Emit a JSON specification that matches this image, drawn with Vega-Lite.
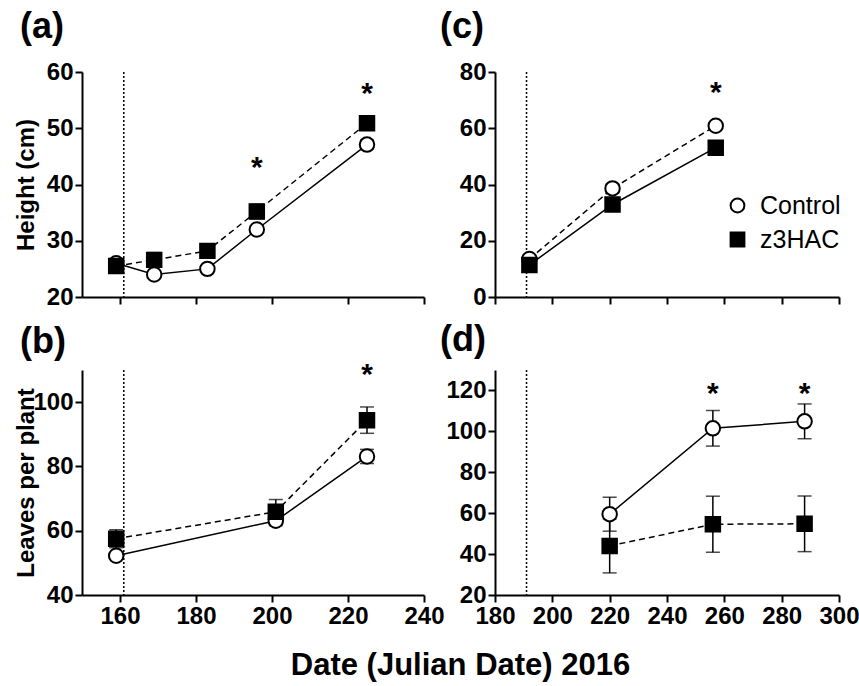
{
  "$schema": "https://vega.github.io/schema/vega-lite/v6.json",
  "padding": {"left": 14, "top": 9, "right": 0, "bottom": 4},
  "background": "white",
  "datasets": {
    "obs": [
      {"panel": "a", "series": "Control", "day": 159, "mean": 26.0, "err": 0.8},
      {"panel": "a", "series": "Control", "day": 169, "mean": 24.0, "err": 0.5},
      {"panel": "a", "series": "Control", "day": 183, "mean": 25.0, "err": 0.5},
      {"panel": "a", "series": "Control", "day": 196, "mean": 32.0, "err": 0.6},
      {"panel": "a", "series": "Control", "day": 225, "mean": 47.1, "err": 0.8},
      {"panel": "a", "series": "z3HAC", "day": 159, "mean": 25.5, "err": 0.9},
      {"panel": "a", "series": "z3HAC", "day": 169, "mean": 26.6, "err": 1.3},
      {"panel": "a", "series": "z3HAC", "day": 183, "mean": 28.2, "err": 1.2},
      {"panel": "a", "series": "z3HAC", "day": 196, "mean": 35.2, "err": 1.3},
      {"panel": "a", "series": "z3HAC", "day": 225, "mean": 50.9, "err": 1.2},
      {"panel": "b", "series": "Control", "day": 159, "mean": 52.2, "err": 1.0},
      {"panel": "b", "series": "Control", "day": 201, "mean": 63.1, "err": 1.5},
      {"panel": "b", "series": "Control", "day": 225, "mean": 83.1, "err": 2.2},
      {"panel": "b", "series": "z3HAC", "day": 159, "mean": 57.5, "err": 2.8},
      {"panel": "b", "series": "z3HAC", "day": 201, "mean": 65.9, "err": 3.8},
      {"panel": "b", "series": "z3HAC", "day": 225, "mean": 94.4, "err": 4.1},
      {"panel": "c", "series": "Control", "day": 192, "mean": 13.5, "err": 1.0},
      {"panel": "c", "series": "Control", "day": 221, "mean": 38.6, "err": 1.5},
      {"panel": "c", "series": "Control", "day": 257, "mean": 60.9, "err": 1.2},
      {"panel": "c", "series": "z3HAC", "day": 192, "mean": 11.4, "err": 1.0},
      {"panel": "c", "series": "z3HAC", "day": 221, "mean": 32.9, "err": 1.5},
      {"panel": "c", "series": "z3HAC", "day": 257, "mean": 53.1, "err": 1.0},
      {"panel": "d", "series": "Control", "day": 220, "mean": 59.5, "err": 8.3},
      {"panel": "d", "series": "Control", "day": 256, "mean": 101.5, "err": 8.7},
      {"panel": "d", "series": "Control", "day": 288, "mean": 104.9, "err": 8.5},
      {"panel": "d", "series": "z3HAC", "day": 220, "mean": 44.0, "err": 13.2},
      {"panel": "d", "series": "z3HAC", "day": 256, "mean": 54.6, "err": 13.7},
      {"panel": "d", "series": "z3HAC", "day": 288, "mean": 54.8, "err": 13.6}
    ],
    "stars": [
      {"panel": "a", "day": 196, "pos": 41.4},
      {"panel": "a", "day": 225, "pos": 54.5},
      {"panel": "b", "day": 225, "pos": 105.6},
      {"panel": "c", "day": 257, "pos": 69.4},
      {"panel": "d", "day": 256, "pos": 113.7},
      {"panel": "d", "day": 288, "pos": 113.7}
    ],
    "treat": [
      {"panel": "a", "day": 161},
      {"panel": "b", "day": 161},
      {"panel": "c", "day": 191},
      {"panel": "d", "day": 191}
    ]
  },
  "title": {"text": "Date (Julian Date) 2016", "orient": "bottom", "anchor": "middle", "font": "Liberation Sans", "fontSize": 31, "fontWeight": "bold", "color": "black", "offset": 23, "dx": 24},
  "columns": 2,
  "spacing": {"row": 73, "column": 71},
  "bounds": "flush",
  "concat": [
    {
      "width": 342, "height": 225,
      "title": {"text": "(a)", "anchor": "start", "frame": "group", "dx": -62, "offset": 14},
      "encoding": {"x": {"field": "day", "type": "quantitative", "scale": {"domain": [150, 240], "nice": false, "zero": false}, "axis": {"values": [160, 180, 200, 220, 240], "labels": false, "title": null}}},
      "layer": [
        {"data": {"name": "treat"}, "transform": [{"filter": "datum.panel === 'a'"}], "mark": {"type": "rule", "color": "black", "strokeWidth": 1.5, "strokeDash": [2, 2]}},
        {"data": {"name": "obs"}, "transform": [{"filter": "datum.panel === 'a'"}],
         "mark": {"type": "errorbar", "color": "black", "ticks": {"size": 14, "thickness": 1.5}, "rule": {"strokeWidth": 1.5}},
         "encoding": {"y": {"field": "mean", "type": "quantitative", "scale": {"domain": [20, 60], "nice": false, "zero": false}, "axis": {"values": [20, 30, 40, 50, 60], "title": "Height (cm)", "minExtent": 35, "maxExtent": 35, "titlePadding": 9}}, "yError": {"field": "err"}}},
        {"data": {"name": "obs"}, "transform": [{"filter": "datum.panel === 'a' && datum.series === 'Control'"}],
         "mark": {"type": "line", "color": "black", "strokeWidth": 1.5},
         "encoding": {"y": {"field": "mean", "type": "quantitative", "scale": {"domain": [20, 60], "nice": false, "zero": false}, "axis": {"values": [20, 30, 40, 50, 60], "title": "Height (cm)", "minExtent": 35, "maxExtent": 35, "titlePadding": 9}}}},
        {"data": {"name": "obs"}, "transform": [{"filter": "datum.panel === 'a' && datum.series === 'z3HAC'"}],
         "mark": {"type": "line", "color": "black", "strokeWidth": 1.5, "strokeDash": [6, 4]},
         "encoding": {"y": {"field": "mean", "type": "quantitative", "scale": {"domain": [20, 60], "nice": false, "zero": false}, "axis": {"values": [20, 30, 40, 50, 60], "title": "Height (cm)", "minExtent": 35, "maxExtent": 35, "titlePadding": 9}}}},
        {"data": {"name": "obs"}, "transform": [{"filter": "datum.panel === 'a'"}],
         "mark": {"type": "point", "strokeWidth": 2, "size": 210, "opacity": 1},
         "encoding": {
           "y": {"field": "mean", "type": "quantitative", "scale": {"domain": [20, 60], "nice": false, "zero": false}, "axis": {"values": [20, 30, 40, 50, 60], "title": "Height (cm)", "minExtent": 35, "maxExtent": 35, "titlePadding": 9}},
           "shape": {"field": "series", "type": "nominal", "scale": {"domain": ["Control", "z3HAC"], "range": ["circle", "square"]}, "legend": {"title": null, "orient": "none", "legendX": 643, "legendY": 121}},
           "fill": {"field": "series", "type": "nominal", "scale": {"domain": ["Control", "z3HAC"], "range": ["white", "black"]}, "legend": {"title": null, "orient": "none", "legendX": 643, "legendY": 121}},
           "stroke": {"field": "series", "type": "nominal", "scale": {"domain": ["Control", "z3HAC"], "range": ["black", "black"]}, "legend": {"title": null, "orient": "none", "legendX": 643, "legendY": 121}}
         }},
        {"data": {"name": "stars"}, "transform": [{"filter": "datum.panel === 'a'"}],
         "mark": {"type": "text", "text": "*", "font": "Liberation Sans", "fontSize": 30, "fontWeight": "bold", "color": "black", "baseline": "alphabetic", "align": "center"},
         "encoding": {"y": {"field": "pos", "type": "quantitative", "scale": {"domain": [20, 60], "nice": false, "zero": false}, "axis": {"values": [20, 30, 40, 50, 60], "title": "Height (cm)", "minExtent": 35, "maxExtent": 35, "titlePadding": 9}}}}
      ]
    },
    {
      "width": 344, "height": 225,
      "title": {"text": "(c)", "anchor": "start", "frame": "group", "dx": -55, "offset": 14},
      "encoding": {"x": {"field": "day", "type": "quantitative", "scale": {"domain": [180, 300], "nice": false, "zero": false}, "axis": {"values": [180, 200, 220, 240, 260, 280, 300], "labels": false, "title": null}}},
      "layer": [
        {"data": {"name": "treat"}, "transform": [{"filter": "datum.panel === 'c'"}], "mark": {"type": "rule", "color": "black", "strokeWidth": 1.5, "strokeDash": [2, 2]}},
        {"data": {"name": "obs"}, "transform": [{"filter": "datum.panel === 'c'"}],
         "mark": {"type": "errorbar", "color": "black", "ticks": {"size": 14, "thickness": 1.5}, "rule": {"strokeWidth": 1.5}},
         "encoding": {"y": {"field": "mean", "type": "quantitative", "scale": {"domain": [0, 80], "nice": false, "zero": false}, "axis": {"values": [0, 20, 40, 60, 80], "title": null}}, "yError": {"field": "err"}}},
        {"data": {"name": "obs"}, "transform": [{"filter": "datum.panel === 'c' && datum.series === 'Control'"}],
         "mark": {"type": "line", "color": "black", "strokeWidth": 1.5, "strokeDash": [6, 4]},
         "encoding": {"y": {"field": "mean", "type": "quantitative", "scale": {"domain": [0, 80], "nice": false, "zero": false}, "axis": {"values": [0, 20, 40, 60, 80], "title": null}}}},
        {"data": {"name": "obs"}, "transform": [{"filter": "datum.panel === 'c' && datum.series === 'z3HAC'"}],
         "mark": {"type": "line", "color": "black", "strokeWidth": 1.5},
         "encoding": {"y": {"field": "mean", "type": "quantitative", "scale": {"domain": [0, 80], "nice": false, "zero": false}, "axis": {"values": [0, 20, 40, 60, 80], "title": null}}}},
        {"data": {"name": "obs"}, "transform": [{"filter": "datum.panel === 'c'"}],
         "mark": {"type": "point", "strokeWidth": 2, "size": 210, "opacity": 1},
         "encoding": {
           "y": {"field": "mean", "type": "quantitative", "scale": {"domain": [0, 80], "nice": false, "zero": false}, "axis": {"values": [0, 20, 40, 60, 80], "title": null}},
           "shape": {"field": "series", "type": "nominal", "scale": {"domain": ["Control", "z3HAC"], "range": ["circle", "square"]}, "legend": {"title": null, "orient": "none", "legendX": 643, "legendY": 121}},
           "fill": {"field": "series", "type": "nominal", "scale": {"domain": ["Control", "z3HAC"], "range": ["white", "black"]}, "legend": {"title": null, "orient": "none", "legendX": 643, "legendY": 121}},
           "stroke": {"field": "series", "type": "nominal", "scale": {"domain": ["Control", "z3HAC"], "range": ["black", "black"]}, "legend": {"title": null, "orient": "none", "legendX": 643, "legendY": 121}}
         }},
        {"data": {"name": "stars"}, "transform": [{"filter": "datum.panel === 'c'"}],
         "mark": {"type": "text", "text": "*", "font": "Liberation Sans", "fontSize": 30, "fontWeight": "bold", "color": "black", "baseline": "alphabetic", "align": "center"},
         "encoding": {"y": {"field": "pos", "type": "quantitative", "scale": {"domain": [0, 80], "nice": false, "zero": false}, "axis": {"values": [0, 20, 40, 60, 80], "title": null}}}}
      ]
    },
    {
      "width": 342, "height": 225,
      "title": {"text": "(b)", "anchor": "start", "frame": "group", "dx": -62, "offset": -1},
      "encoding": {"x": {"field": "day", "type": "quantitative", "scale": {"domain": [150, 240], "nice": false, "zero": false}, "axis": {"values": [160, 180, 200, 220, 240], "title": null}}},
      "layer": [
        {"data": {"name": "treat"}, "transform": [{"filter": "datum.panel === 'b'"}], "mark": {"type": "rule", "color": "black", "strokeWidth": 1.5, "strokeDash": [2, 2]}},
        {"data": {"name": "obs"}, "transform": [{"filter": "datum.panel === 'b'"}],
         "mark": {"type": "errorbar", "color": "black", "ticks": {"size": 14, "thickness": 1.5}, "rule": {"strokeWidth": 1.5}},
         "encoding": {"y": {"field": "mean", "type": "quantitative", "scale": {"domain": [40, 110], "nice": false, "zero": false}, "axis": {"values": [40, 60, 80, 100], "title": "Leaves per plant", "minExtent": 35, "maxExtent": 35, "titlePadding": 9}}, "yError": {"field": "err"}}},
        {"data": {"name": "obs"}, "transform": [{"filter": "datum.panel === 'b' && datum.series === 'Control'"}],
         "mark": {"type": "line", "color": "black", "strokeWidth": 1.5},
         "encoding": {"y": {"field": "mean", "type": "quantitative", "scale": {"domain": [40, 110], "nice": false, "zero": false}, "axis": {"values": [40, 60, 80, 100], "title": "Leaves per plant", "minExtent": 35, "maxExtent": 35, "titlePadding": 9}}}},
        {"data": {"name": "obs"}, "transform": [{"filter": "datum.panel === 'b' && datum.series === 'z3HAC'"}],
         "mark": {"type": "line", "color": "black", "strokeWidth": 1.5, "strokeDash": [6, 4]},
         "encoding": {"y": {"field": "mean", "type": "quantitative", "scale": {"domain": [40, 110], "nice": false, "zero": false}, "axis": {"values": [40, 60, 80, 100], "title": "Leaves per plant", "minExtent": 35, "maxExtent": 35, "titlePadding": 9}}}},
        {"data": {"name": "obs"}, "transform": [{"filter": "datum.panel === 'b'"}],
         "mark": {"type": "point", "strokeWidth": 2, "size": 210, "opacity": 1},
         "encoding": {
           "y": {"field": "mean", "type": "quantitative", "scale": {"domain": [40, 110], "nice": false, "zero": false}, "axis": {"values": [40, 60, 80, 100], "title": "Leaves per plant", "minExtent": 35, "maxExtent": 35, "titlePadding": 9}},
           "shape": {"field": "series", "type": "nominal", "scale": {"domain": ["Control", "z3HAC"], "range": ["circle", "square"]}, "legend": {"title": null, "orient": "none", "legendX": 643, "legendY": 121}},
           "fill": {"field": "series", "type": "nominal", "scale": {"domain": ["Control", "z3HAC"], "range": ["white", "black"]}, "legend": {"title": null, "orient": "none", "legendX": 643, "legendY": 121}},
           "stroke": {"field": "series", "type": "nominal", "scale": {"domain": ["Control", "z3HAC"], "range": ["black", "black"]}, "legend": {"title": null, "orient": "none", "legendX": 643, "legendY": 121}}
         }},
        {"data": {"name": "stars"}, "transform": [{"filter": "datum.panel === 'b'"}],
         "mark": {"type": "text", "text": "*", "font": "Liberation Sans", "fontSize": 30, "fontWeight": "bold", "color": "black", "baseline": "alphabetic", "align": "center"},
         "encoding": {"y": {"field": "pos", "type": "quantitative", "scale": {"domain": [40, 110], "nice": false, "zero": false}, "axis": {"values": [40, 60, 80, 100], "title": "Leaves per plant", "minExtent": 35, "maxExtent": 35, "titlePadding": 9}}}}
      ]
    },
    {
      "width": 344, "height": 225,
      "title": {"text": "(d)", "anchor": "start", "frame": "group", "dx": -55, "offset": 10},
      "encoding": {"x": {"field": "day", "type": "quantitative", "scale": {"domain": [180, 300], "nice": false, "zero": false}, "axis": {"values": [180, 200, 220, 240, 260, 280, 300], "title": null}}},
      "layer": [
        {"data": {"name": "treat"}, "transform": [{"filter": "datum.panel === 'd'"}], "mark": {"type": "rule", "color": "black", "strokeWidth": 1.5, "strokeDash": [2, 2]}},
        {"data": {"name": "obs"}, "transform": [{"filter": "datum.panel === 'd'"}],
         "mark": {"type": "errorbar", "color": "black", "ticks": {"size": 14, "thickness": 1.5}, "rule": {"strokeWidth": 1.5}},
         "encoding": {"y": {"field": "mean", "type": "quantitative", "scale": {"domain": [20, 130], "nice": false, "zero": false}, "axis": {"values": [20, 40, 60, 80, 100, 120], "title": null}}, "yError": {"field": "err"}}},
        {"data": {"name": "obs"}, "transform": [{"filter": "datum.panel === 'd' && datum.series === 'Control'"}],
         "mark": {"type": "line", "color": "black", "strokeWidth": 1.5},
         "encoding": {"y": {"field": "mean", "type": "quantitative", "scale": {"domain": [20, 130], "nice": false, "zero": false}, "axis": {"values": [20, 40, 60, 80, 100, 120], "title": null}}}},
        {"data": {"name": "obs"}, "transform": [{"filter": "datum.panel === 'd' && datum.series === 'z3HAC'"}],
         "mark": {"type": "line", "color": "black", "strokeWidth": 1.5, "strokeDash": [6, 4]},
         "encoding": {"y": {"field": "mean", "type": "quantitative", "scale": {"domain": [20, 130], "nice": false, "zero": false}, "axis": {"values": [20, 40, 60, 80, 100, 120], "title": null}}}},
        {"data": {"name": "obs"}, "transform": [{"filter": "datum.panel === 'd'"}],
         "mark": {"type": "point", "strokeWidth": 2, "size": 210, "opacity": 1},
         "encoding": {
           "y": {"field": "mean", "type": "quantitative", "scale": {"domain": [20, 130], "nice": false, "zero": false}, "axis": {"values": [20, 40, 60, 80, 100, 120], "title": null}},
           "shape": {"field": "series", "type": "nominal", "scale": {"domain": ["Control", "z3HAC"], "range": ["circle", "square"]}, "legend": {"title": null, "orient": "none", "legendX": 643, "legendY": 121}},
           "fill": {"field": "series", "type": "nominal", "scale": {"domain": ["Control", "z3HAC"], "range": ["white", "black"]}, "legend": {"title": null, "orient": "none", "legendX": 643, "legendY": 121}},
           "stroke": {"field": "series", "type": "nominal", "scale": {"domain": ["Control", "z3HAC"], "range": ["black", "black"]}, "legend": {"title": null, "orient": "none", "legendX": 643, "legendY": 121}}
         }},
        {"data": {"name": "stars"}, "transform": [{"filter": "datum.panel === 'd'"}],
         "mark": {"type": "text", "text": "*", "font": "Liberation Sans", "fontSize": 30, "fontWeight": "bold", "color": "black", "baseline": "alphabetic", "align": "center"},
         "encoding": {"y": {"field": "pos", "type": "quantitative", "scale": {"domain": [20, 130], "nice": false, "zero": false}, "axis": {"values": [20, 40, 60, 80, 100, 120], "title": null}}}}
      ]
    }
  ],
  "config": {
    "view": {"stroke": null},
    "font": "Liberation Sans",
    "title": {"font": "Liberation Sans", "fontSize": 36, "fontWeight": "bold", "color": "black"},
    "axis": {
      "grid": false,
      "domainColor": "black", "domainWidth": 2,
      "tickColor": "black", "tickWidth": 2, "tickSize": 7,
      "labelFont": "Liberation Sans", "labelFontSize": 24, "labelFontWeight": "bold", "labelColor": "black", "labelPadding": 2,
      "labelOverlap": false, "labelFlush": false,
      "titleFont": "Liberation Sans", "titleFontSize": 24, "titleFontWeight": "bold", "titleColor": "black"
    },
    "legend": {
      "labelFont": "Liberation Sans", "labelFontSize": 25, "labelFontWeight": "normal", "labelColor": "black",
      "symbolSize": 190, "symbolStrokeWidth": 2, "symbolStrokeColor": "black", "rowPadding": 8, "labelOffset": 10
    }
  }
}
